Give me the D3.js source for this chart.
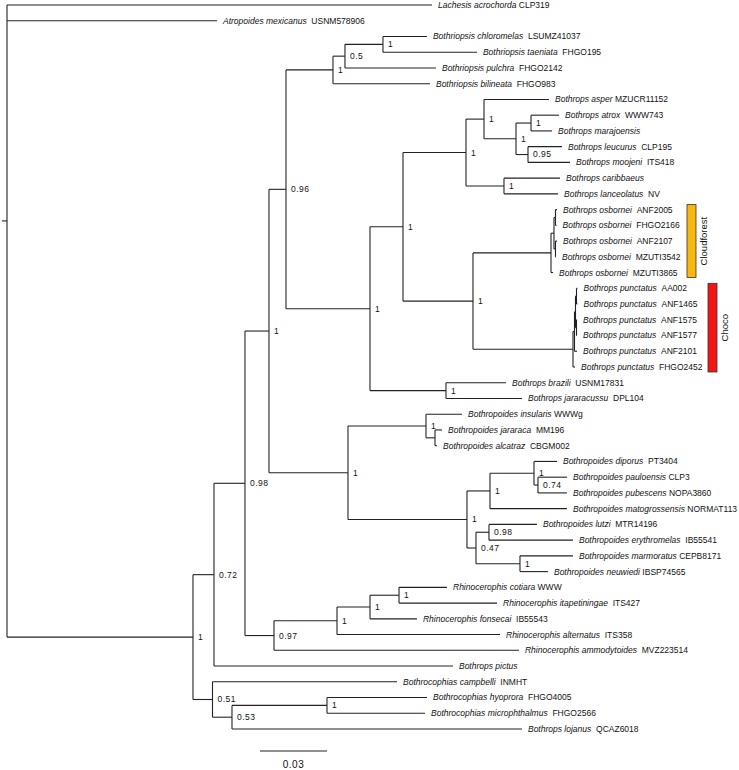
<!DOCTYPE html>
<html><head><meta charset="utf-8">
<script src="https://cdn.jsdelivr.net/npm/d3@7"></script>
<style>html,body{margin:0;padding:0;background:#fff;} svg{display:block;}</style>
</head><body>
<svg id="chart" width="739" height="770"></svg>
<script>
// ---------------- DATA ----------------
const tipSpecies = [
 "Lachesis acrochorda","Atropoides mexicanus","Bothriopsis chloromelas","Bothriopsis taeniata",
 "Bothriopsis pulchra","Bothriopsis bilineata","Bothrops asper","Bothrops atrox","Bothrops marajoensis",
 "Bothrops leucurus","Bothrops moojeni","Bothrops caribbaeus","Bothrops lanceolatus",
 "Bothrops osbornei","Bothrops osbornei","Bothrops osbornei","Bothrops osbornei","Bothrops osbornei",
 "Bothrops punctatus","Bothrops punctatus","Bothrops punctatus","Bothrops punctatus","Bothrops punctatus","Bothrops punctatus",
 "Bothrops brazili","Bothrops jararacussu","Bothropoides insularis","Bothropoides jararaca","Bothropoides alcatraz",
 "Bothropoides diporus","Bothropoides pauloensis","Bothropoides pubescens","Bothropoides matogrossensis",
 "Bothropoides lutzi","Bothropoides erythromelas","Bothropoides marmoratus","Bothropoides neuwiedi",
 "Rhinocerophis cotiara","Rhinocerophis itapetiningae","Rhinocerophis fonsecai","Rhinocerophis alternatus",
 "Rhinocerophis ammodytoides","Bothrops pictus","Bothrocophias campbelli","Bothrocophias hyoprora",
 "Bothrocophias microphthalmus","Bothrops lojanus"
];
const tipVoucher = [
 "CLP319","USNM578906","LSUMZ41037","FHGO195","FHGO2142","FHGO983","MZUCR11152","WWW743","",
 "CLP195","ITS418","","NV","ANF2005","FHGO2166","ANF2107","MZUTI3542","MZUTI3865",
 "AA002","ANF1465","ANF1575","ANF1577","ANF2101","FHGO2452","USNM17831","DPL104","WWWg","MM196","CBGM002",
 "PT3404","CLP3","NOPA3860","NORMAT113","MTR14196","IB55541","CEPB8171","IBSP74565",
 "WWW","ITS427","IB55543","ITS358","MVZ223514","","INMHT","FHGO4005","FHGO2566","QCAZ6018"
];
const tipGap = [1,2,2,2,2,2,1,2,0,2,2,0,2,2,2,2,2,2,2,2,2,2,2,2,2,2,1,2,2,2,1,1,1,2,2,1,1,1,2,2,2,2,0,2,2,2,2];

// [child, parent, branch length (subst./site), posterior support]
const edges = [
 ["root",null,0,""],
 ["t0","root",0.19030,""],
 ["t1","root",0.09403,""],
 ["nIn","root",0.08328,"1"],
 ["nUp","nIn",0.00940,"0.72"],
 ["nBc","nIn",0.00873,"0.51"],
 ["n98","nUp",0.01388,"0.98"],
 ["t42","nUp",0.10701,""],
 ["nA","n98",0.01075,"1"],
 ["n97","n98",0.01299,"0.97"],
 ["n96","nA",0.00761,"0.96"],
 ["nBp","nA",0.03537,"1"],
 ["nBs","n96",0.02104,"1"],
 ["nX","n96",0.03761,"1"],
 ["n05","nBs",0.00537,"0.5"],
 ["t5","nBs",0.04343,""],
 ["nCt","n05",0.01701,"1"],
 ["t4","n05",0.04075,""],
 ["t2","nCt",0.01970,""],
 ["t3","nCt",0.04209,""],
 ["nP","nX",0.01478,"1"],
 ["nBj","nX",0.03403,"1"],
 ["nB","nP",0.02821,"1"],
 ["nOP","nP",0.03134,"1"],
 ["nAsp","nB",0.00806,"1"],
 ["nCl","nB",0.01701,"1"],
 ["t6","nAsp",0.02910,""],
 ["nAl","nAsp",0.01433,"1"],
 ["nAm","nAl",0.00672,"1"],
 ["n95","nAl",0.00537,"0.95"],
 ["t7","nAm",0.01254,""],
 ["t8","nAm",0.00940,""],
 ["t9","n95",0.01522,""],
 ["t10","n95",0.01881,""],
 ["t11","nCl",0.02507,""],
 ["t12","nCl",0.02418,""],
 ["nOs","nOP",0.03493,""],
 ["nPc","nOP",0.04478,""],
 ["nOg","nOs",0.00134,""],
 ["t17","nOs",0.00090,""],
 ["nO1","nOg",0.00067,""],
 ["nO2","nOg",0.00067,""],
 ["t13","nO1",0.00067,""],
 ["t14","nO1",0.00045,""],
 ["t15","nO2",0.00067,""],
 ["t16","nO2",0.00022,""],
 ["nP2","nPc",0.00067,""],
 ["t23","nPc",0.00090,""],
 ["nPab","nP2",0.00045,""],
 ["t22","nP2",0.00112,""],
 ["nPa","nPab",0.00045,""],
 ["nPb","nPab",0.00045,""],
 ["t18","nPa",0.00045,""],
 ["t19","nPa",0.00045,""],
 ["t20","nPb",0.00022,""],
 ["t21","nPb",0.00022,""],
 ["t24","nBj",0.02687,""],
 ["t25","nBj",0.03403,""],
 ["nIns","nBp",0.03493,"1"],
 ["nLow","nBp",0.05328,"1"],
 ["t26","nIns",0.01612,""],
 ["nJa","nIns",0.00403,""],
 ["t27","nJa",0.00313,""],
 ["t28","nJa",0.00090,""],
 ["nDg","nLow",0.01030,"1"],
 ["n47","nLow",0.00403,"0.47"],
 ["nDp","nDg",0.01970,"1"],
 ["t32","nDg",0.03448,""],
 ["t29","nDp",0.01030,""],
 ["n74","nDp",0.00179,"0.74"],
 ["t30","n74",0.01299,""],
 ["t31","n74",0.01299,""],
 ["n98b","n47",0.00582,"0.98"],
 ["nMn","n47",0.01970,"1"],
 ["t33","n98b",0.02149,""],
 ["t34","n98b",0.03761,""],
 ["t35","nMn",0.02373,""],
 ["t36","nMn",0.01254,""],
 ["nAlt","n97",0.02821,"1"],
 ["t41","n97",0.10970,""],
 ["nFon","nAlt",0.01478,"1"],
 ["t40","nAlt",0.07299,""],
 ["nCot","nFon",0.01299,"1"],
 ["t39","nFon",0.02104,""],
 ["t37","nCot",0.02149,""],
 ["t38","nCot",0.04388,""],
 ["t43","nBc",0.08261,""],
 ["n53","nBc",0.00873,"0.53"],
 ["nHm","n53",0.04254,"1"],
 ["t46","n53",0.12985,""],
 ["t44","nHm",0.04478,""],
 ["t45","nHm",0.04388,""]
];
const rootStub = 0.00224;
const cladeNames = ["Cloudforest","Choco"];
const cladeFirstTip = [13,18];
const cladeLastTip = [17,23];
const cladeColors = ["#F7B70C","#F21616"];
const scaleBarValue = 0.03;
const scaleBarStart = 0.11328;

// ---------------- DRAW ----------------
const svg = d3.select("#chart");
const FONT = "'Liberation Sans', Arial, Helvetica, sans-serif";
const x = d3.scaleLinear().domain([0, 0.03]).range([7, 74]);
const y = d3.scaleLinear().domain([0, tipSpecies.length - 1]).range([5, 729]);

const root = d3.stratify().id(d => d[0]).parentId(d => d[1])(edges);
root.eachBefore(n => { n.len = n.parent ? n.parent.len + n.data[2] : 0; });
root.eachAfter(n => { n.yy = n.children ? d3.mean(n.children, c => c.yy) : y(+n.id.slice(1)); });

const lineColor = "#222";
const g = svg.append("g").attr("fill", "none").attr("stroke", lineColor).attr("stroke-width", 1.1);

// horizontal branches
g.selectAll("path.h").data(root.descendants().filter(d => d.parent)).join("path")
  .attr("d", d => `M${x(d.parent.len)},${d.yy}H${x(d.len)}`);
// vertical connectors
g.selectAll("path.v").data(root.descendants().filter(d => d.children)).join("path")
  .attr("d", d => `M${x(d.len)},${d.children[0].yy}V${d.children[d.children.length-1].yy}`);
// root stub
g.append("path").attr("d", `M${x(-rootStub)},${root.yy}H${x(0)}`);

// tip labels
const leaves = root.leaves();
const tl = svg.append("g").attr("font-family", FONT).attr("font-size", 8.5).attr("fill", "#111");
leaves.forEach(l => {
  const i = +l.id.slice(1);
  const t = tl.append("text").attr("x", x(l.len) + 6).attr("y", l.yy).attr("dy", "0.35em");
  t.append("tspan").attr("font-style", "italic").text(tipSpecies[i]);
  if (tipVoucher[i]) t.append("tspan").text("\u00a0".repeat(tipGap[i]) + tipVoucher[i]);
});

// support labels
svg.append("g").attr("font-family", FONT).attr("font-size", 8.5).attr("fill", "#111")
  .attr("letter-spacing", 0.5)
  .selectAll("text").data(root.descendants().filter(d => d.data[3])).join("text")
  .attr("x", d => x(d.len) + 5).attr("y", d => d.yy).attr("dy", "0.35em")
  .text(d => d.data[3]);

// clade bars
const barX = [687, 708], barW = 9;
cladeNames.forEach((name, k) => {
  const y0 = y(cladeFirstTip[k]) - 5, y1 = y(cladeLastTip[k]) + 5;
  svg.append("rect").attr("x", barX[k]).attr("y", y0).attr("width", barW).attr("height", y1 - y0)
    .attr("fill", cladeColors[k]).attr("stroke", "#333").attr("stroke-width", 0.8);
  const cx = barX[k] + barW + 8, cy = (y0 + y1) / 2;
  svg.append("text").attr("transform", `translate(${cx},${cy}) rotate(-90)`)
    .attr("text-anchor", "middle").attr("dy", "0.35em")
    .attr("font-family", FONT).attr("font-size", 9.5).attr("fill", "#111").text(name);
});

// scale bar
const sbY = 751;
svg.append("path").attr("d", `M${x(scaleBarStart)},${sbY}H${x(scaleBarStart + scaleBarValue)}`)
  .attr("stroke", lineColor).attr("stroke-width", 1.1);
svg.append("text").attr("x", x(scaleBarStart + scaleBarValue / 2)).attr("y", sbY + 13).attr("dy", "0.35em")
  .attr("text-anchor", "middle").attr("font-family", FONT).attr("font-size", 10).attr("fill", "#111")
  .attr("letter-spacing", 0.5).text(String(scaleBarValue));
</script>
</body></html>
